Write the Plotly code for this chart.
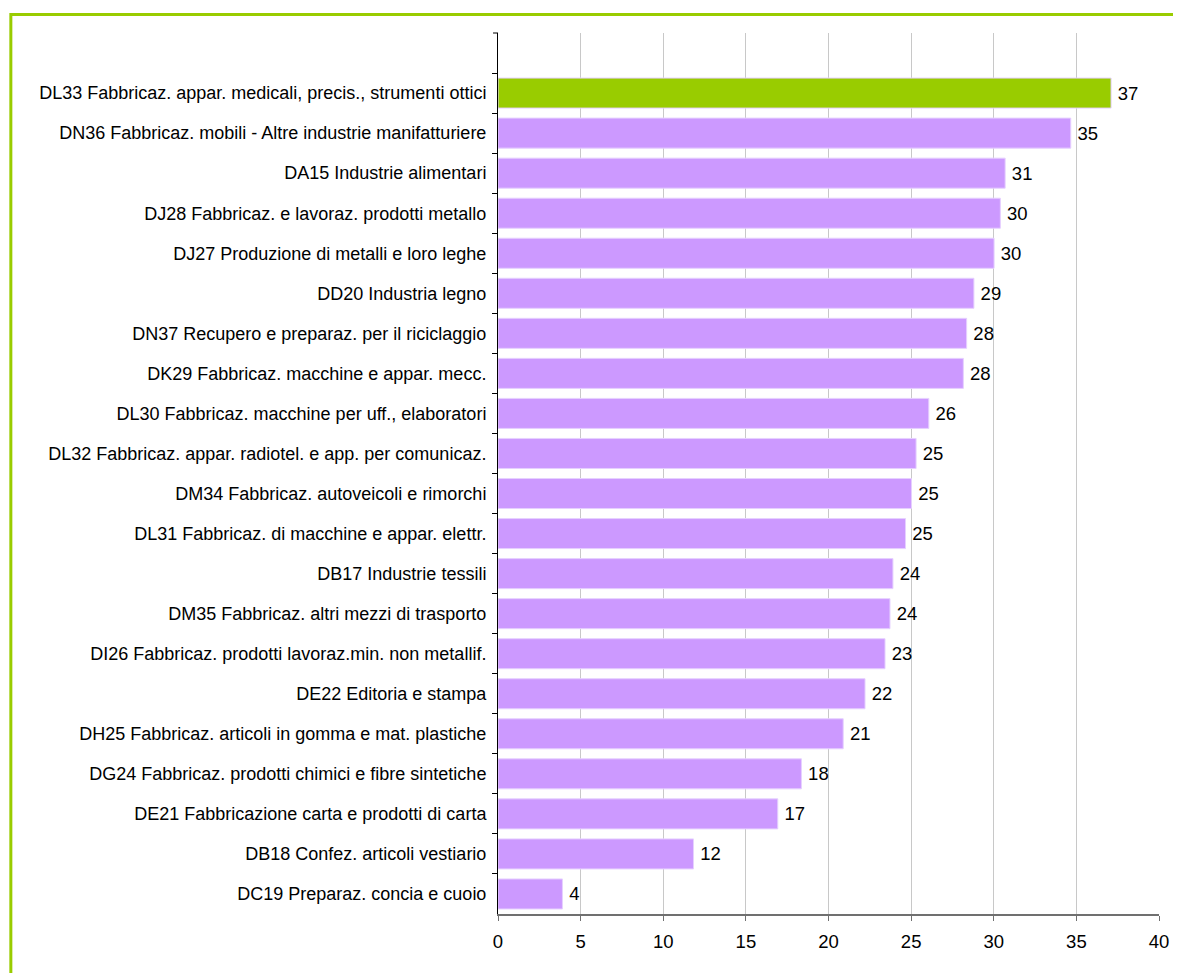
import plotly.graph_objects as go

sectors = [
    'DL33 Fabbricaz. appar. medicali, precis., strumenti ottici',
    'DN36 Fabbricaz. mobili - Altre industrie manifatturiere',
    'DA15 Industrie alimentari',
    'DJ28 Fabbricaz. e lavoraz. prodotti metallo',
    'DJ27 Produzione di metalli e loro leghe',
    'DD20 Industria legno',
    'DN37 Recupero e preparaz. per il riciclaggio',
    'DK29 Fabbricaz. macchine e appar. mecc.',
    'DL30 Fabbricaz. macchine per uff., elaboratori',
    'DL32 Fabbricaz. appar. radiotel. e app. per comunicaz.',
    'DM34 Fabbricaz. autoveicoli e rimorchi',
    'DL31 Fabbricaz. di macchine e appar. elettr.',
    'DB17 Industrie tessili',
    'DM35 Fabbricaz. altri mezzi di trasporto',
    'DI26 Fabbricaz. prodotti lavoraz.min. non metallif.',
    'DE22 Editoria e stampa',
    'DH25 Fabbricaz. articoli in gomma e mat. plastiche',
    'DG24 Fabbricaz. prodotti chimici e fibre sintetiche',
    'DE21 Fabbricazione carta e prodotti di carta',
    'DB18 Confez. articoli vestiario',
    'DC19 Preparaz. concia e cuoio',
]
values = [37.1, 34.66, 30.69, 30.40, 30.02, 28.8, 28.36, 28.16, 26.07, 25.3,
          25.02, 24.66, 23.9, 23.72, 23.42, 22.21, 20.89, 18.36, 16.93, 11.83, 3.90]
highlight = ['DL33 Fabbricaz. appar. medicali, precis., strumenti ottici']
x_ticks = [0, 5, 10, 15, 20, 25, 30, 35, 40]

GREEN = '#99cc00'
PURPLE = '#cc99ff'
colors = [GREEN if s in highlight else PURPLE for s in sectors]
font = 'Liberation Sans, Arial, sans-serif'

fig = go.Figure(go.Bar(
    x=values, y=sectors, orientation='h',
    marker=dict(color=colors, line=dict(color='#e6d0ff', width=1)),
    texttemplate='\u2009%{x:.0f}', textposition='outside',
    textfont=dict(size=18.5, color='black', family=font),
    cliponaxis=False,
))

# page body adds an 8px offset, so the figure is a bit smaller than the window
fig.update_layout(
    width=1173, height=965,
    margin=dict(l=490, r=20, t=25, b=59),
    paper_bgcolor='white', plot_bgcolor='white',
    font=dict(family=font, size=18, color='black'),
    bargap=0.25, showlegend=False,
    xaxis=dict(range=[0, 40], tickvals=x_ticks, showgrid=True, gridcolor='#c8c8c8', gridwidth=1,
               zeroline=False, showline=True, linecolor='#707070', linewidth=2,
               ticks='outside', ticklen=5, tickcolor='#707070', tickfont=dict(size=18.5),
               ticklabelstandoff=5),
    yaxis=dict(type='category', categoryorder='array', categoryarray=sectors,
               range=[len(sectors) - 0.5, -1.5], tickson='boundaries',
               showline=True, linecolor='black', linewidth=1,
               ticks='outside', ticklen=5, tickcolor='black', showgrid=False,
               tickfont=dict(size=18), ticklabelstandoff=7),
    shapes=[
        dict(type='rect', xref='paper', yref='paper', x0=-0.737, x1=1.06, y0=-0.09, y1=1.021,
             line=dict(color=GREEN, width=3), layer='below'),
        dict(type='line', xref='paper', yref='paper', x0=-0.0075, x1=0, y0=1, y1=1,
             line=dict(color='black', width=1)),
    ],
)

fig.write_html('out.html')
